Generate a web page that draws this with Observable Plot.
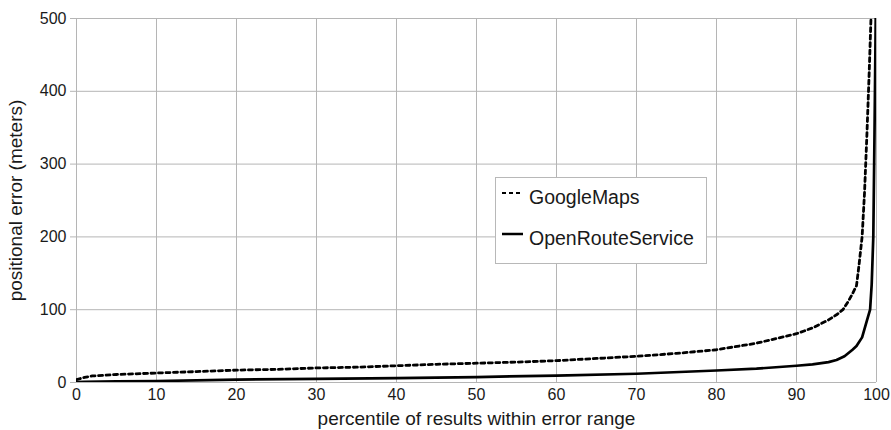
<!DOCTYPE html>
<html>
<head>
<meta charset="utf-8">
<script src="https://cdn.jsdelivr.net/npm/d3@7"></script>
<script src="https://cdn.jsdelivr.net/npm/@observablehq/plot@0.6"></script>
<style>
  html, body { margin: 0; padding: 0; background: #fff; }
  #wrap { position: relative; width: 891px; height: 430px; font-family: "Liberation Sans", Arial, sans-serif; }
  #legend { position: absolute; left: 495px; top: 177px; width: 212px; height: 87px; border: 1px solid #b8b8b8; background: #fff; box-sizing: border-box; }
  #legend .row { position: absolute; left: 6px; display: flex; align-items: flex-start; font-size: 19.5px; color: #1a1a1a; }
  #legend svg { display: block; }
</style>
</head>
<body>
<div id="wrap"></div>
<script>
// percentile (x) and positional error in meters (y)
const googlePct = [0, 1, 2, 5, 10, 15, 20, 25, 30, 35, 40, 45, 50, 55, 60, 65, 70, 75, 80, 85, 90, 92, 94, 95, 95.8, 96.5, 97, 97.5, 97.8, 98.2, 98.5, 98.8, 99.1, 99.3, 99.5];
const googleErr = [4, 7, 9, 11, 13, 15, 17, 18, 20, 21, 23, 25, 26.5, 28, 30, 33, 36, 40, 45, 54, 67, 75, 86, 93, 100, 112, 122, 133, 160, 200, 260, 340, 430, 497, 540];
const orsPct = [0, 1, 5, 10, 20, 30, 40, 50, 60, 70, 80, 85, 90, 92, 94, 95, 96, 97, 97.5, 98.2, 98.8, 99.2, 99.4, 99.6, 99.75, 99.9, 100];
const orsErr = [0.5, 1, 1.5, 2, 4, 5, 6, 7.5, 9.5, 12, 16.5, 19, 23, 25, 28, 31, 36, 45, 50, 62, 85, 100, 135, 200, 341, 497, 560];
const xTicks = [0, 10, 20, 30, 40, 50, 60, 70, 80, 90, 100];
const yTicks = [0, 100, 200, 300, 400, 500];
const seriesNames = ["GoogleMaps", "OpenRouteService"];
const xTitle = "percentile of results within error range";
const yTitle = "positional error (meters)";

const google = googlePct.map((p, i) => ({pct: p, err: googleErr[i]}));
const ors = orsPct.map((p, i) => ({pct: p, err: orsErr[i]}));

const gridColor = "#b5b5b5";
const textColor = "#1a1a1a";

const chart = Plot.plot({
  width: 891,
  height: 430,
  marginLeft: 76,
  marginRight: 15,
  marginTop: 18,
  marginBottom: 48,
  style: {fontFamily: "'Liberation Sans', Arial, sans-serif", color: textColor, background: "#fff"},
  x: {type: "linear", domain: [0, 100]},
  y: {type: "linear", domain: [0, 500]},
  marks: [
    Plot.ruleX(xTicks, {x: d => d, stroke: gridColor, strokeWidth: 1}),
    Plot.ruleY(yTicks, {y: d => d, stroke: gridColor, strokeWidth: 1}),
    Plot.axisX(xTicks, {tickSize: 0, tickPadding: 6, fontSize: 16, fill: textColor, label: null}),
    Plot.axisY(yTicks, {tickSize: 6, tickPadding: 4, stroke: gridColor, fontSize: 16, fill: textColor, label: null}),
    Plot.line(google, {x: "pct", y: "err", stroke: "#000", strokeWidth: 2.8, strokeDasharray: "4,3.5", clip: true}),
    Plot.line(ors, {x: "pct", y: "err", stroke: "#000", strokeWidth: 2.7, clip: true}),
    Plot.text([xTitle], {frameAnchor: "bottom", dy: 42, fontSize: 19, fill: textColor}),
    Plot.text([yTitle], {frameAnchor: "left", textAnchor: "middle", dx: -61, rotate: -90, fontSize: 19, fill: textColor})
  ]
});

const wrap = document.getElementById("wrap");
wrap.appendChild(chart);

const legend = document.createElement("div");
legend.id = "legend";
const rows = [
  {name: seriesNames[0], dash: "4,3", top: 8},
  {name: seriesNames[1], dash: null, top: 49}
];
for (const r of rows) {
  const row = document.createElement("div");
  row.className = "row";
  row.style.top = r.top + "px";
  const svg = d3.create("svg").attr("width", 27).attr("height", 22);
  svg.append("line").attr("x1", 0).attr("x2", r.dash ? 19 : 21).attr("y1", 7).attr("y2", 7)
    .attr("stroke", "#000").attr("stroke-width", r.dash ? 2 : 2.5)
    .attr("stroke-dasharray", r.dash);
  row.appendChild(svg.node());
  const span = document.createElement("span");
  span.textContent = r.name;
  row.appendChild(span);
  legend.appendChild(row);
}
wrap.appendChild(legend);
</script>
</body>
</html>
